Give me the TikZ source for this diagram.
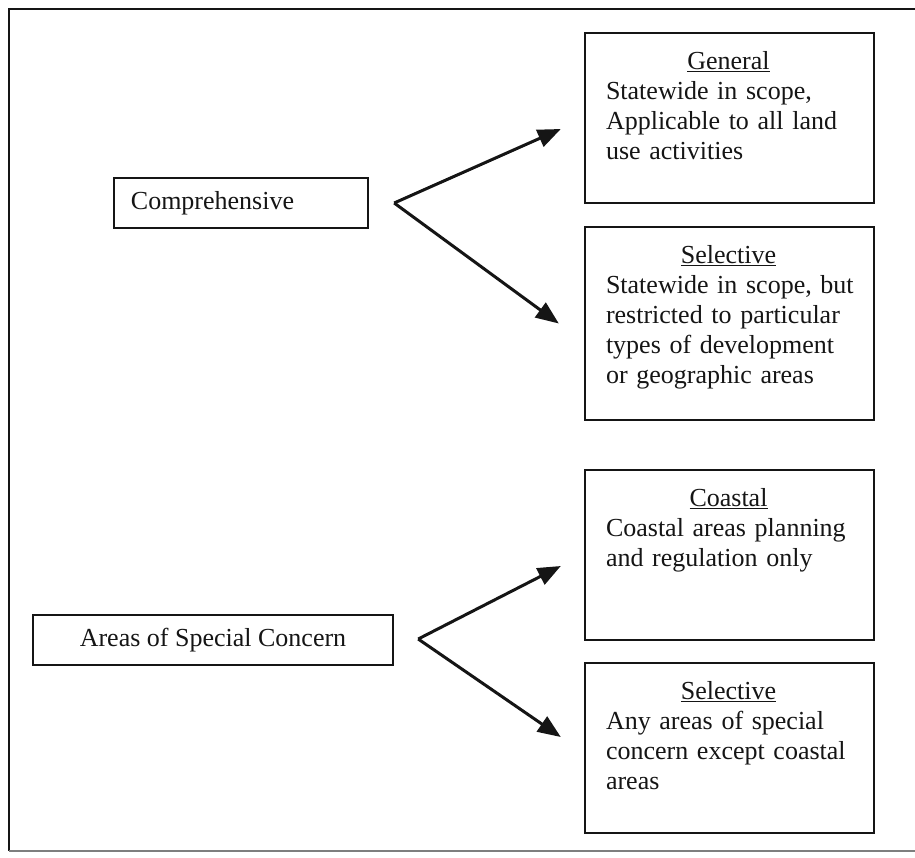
\documentclass[tikz,border=0pt]{standalone}
\usepackage{fontspec}
\setmainfont{Liberation Serif}
\usetikzlibrary{arrows.meta,calc}

% underlined heading with a hand-set rule
\newcommand{\headul}[1]{\setbox0\hbox{#1}\rlap{\rule[-3.2pt]{\wd0}{1.5pt}}\box0}

\definecolor{ink}{HTML}{151515}

\begin{document}
\begin{tikzpicture}[x=1pt,y=-1pt,
  every node/.style={text=ink},
  leftbox/.style={draw=ink,line width=2.4pt,rectangle,inner sep=0pt},
  lefttext/.style={inner sep=0pt,font=\fontsize{26}{30}\selectfont},
  rightbox/.style={draw=ink,line width=2.4pt,rectangle,inner sep=0pt,
    minimum width=289pt},
  boxtext/.style={anchor=north west,inner sep=0pt,text width=262pt,align=left,
    font=\fontsize{26}{30}\selectfont},
  link/.style={draw=ink,line width=3pt,
    -{Triangle[length=23pt,width=18pt]}}
]
\useasboundingbox (0,0) rectangle (915,857);
\fill[white] (0,0) rectangle (915,857);

% outer frame, open on the right
\draw[ink,line width=2.6pt] (915,9) -- (9,9) -- (9,851);
\draw[ink!55,line width=1.6pt] (9,851) -- (915,851);

% left-hand categories
\node[leftbox,minimum width=254pt,minimum height=50pt] (comp) at (241,203) {};
\node[lefttext] (compt) at (212.5,203) {Comprehensive};
\node[leftbox,minimum width=360pt,minimum height=50pt] (asc) at (213,640) {};
\node[lefttext] (asct) at (asc.center) {Areas of Special Concern};

% right-hand boxes
\node[rightbox,minimum height=170pt] (gen) at (729.5,118) {};
\node[rightbox,minimum height=193pt] (sel) at (729.5,323.5) {};
\node[rightbox,minimum height=170pt] (coast) at (729.5,555) {};
\node[rightbox,minimum height=170pt] (selb) at (729.5,748) {};

\node[boxtext] (gent) at ($(gen.north west)+(22,16)$)
  {\strut\makebox[245pt]{\headul{General}}\\Statewide in scope,\\Applicable to all land\\use activities};
\node[boxtext] (selt) at ($(sel.north west)+(22,16)$)
  {\strut\makebox[245pt]{\headul{Selective}}\\Statewide in scope, but\\restricted to particular\\types of development\\or geographic areas};
\node[boxtext] (coastt) at ($(coast.north west)+(22,16)$)
  {\strut\makebox[245pt]{\headul{Coastal}}\\Coastal areas planning\\and regulation only};
\node[boxtext] (selbt) at ($(selb.north west)+(22,16)$)
  {\strut\makebox[245pt]{\headul{Selective}}\\Any areas of special\\concern except coastal\\areas};

% branching arrows
\coordinate (v1) at ($(comp.east)+(25,0)$);
\coordinate (v2) at ($(asc.east)+(24,-1)$);
\draw[link] (v1) -- ($(gen.west)+(-23,11)$);
\draw[link] (v1) -- ($(sel.west)+(-25,0)$);
\draw[link] (v2) -- ($(coast.west)+(-23,11)$);
\draw[link] (v2) -- ($(selb.west)+(-23,-11)$);
\end{tikzpicture}
\end{document}
